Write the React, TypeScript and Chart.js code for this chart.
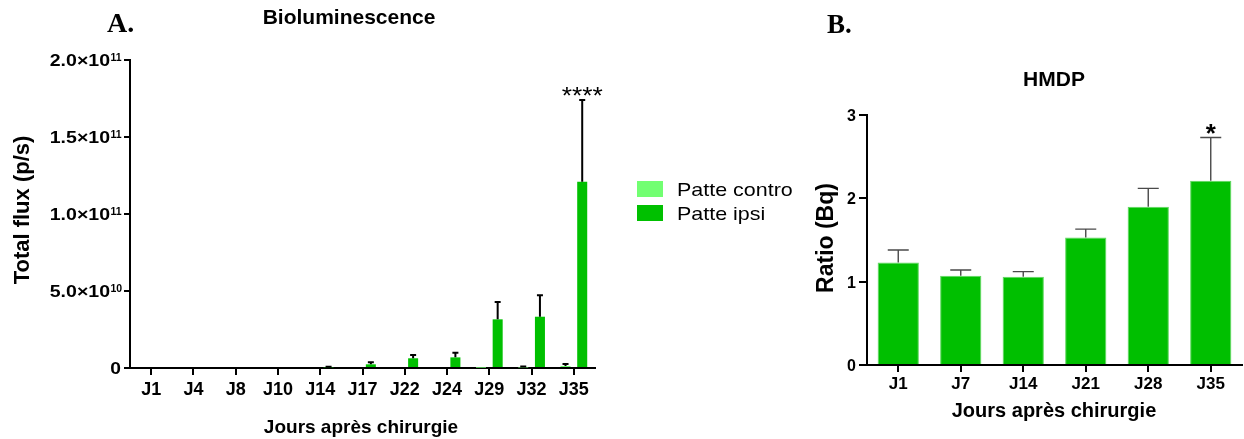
import React, { useEffect, useRef } from 'react';
import { Chart, registerables } from 'chart.js';

Chart.register(...registerables);

// ---------- Data ----------
const bioCategories = ['J1', 'J4', 'J8', 'J10', 'J14', 'J17', 'J22', 'J24', 'J29', 'J32', 'J35'];
const bioControMean = [0, 0, 0, 0, 0, 0, 0, 0, 2e8, 3e8, 1.3e9];
const bioControSem = [0, 0, 0, 0, 0, 0, 0, 0, 0, 6e8, 1.3e9];
const bioIpsiMean = [0, 0, 0, 0, 4e8, 2.4e9, 6.3e9, 6.9e9, 3.16e10, 3.33e10, 1.21e11];
const bioIpsiSem = [0, 0, 0, 0, 4e8, 1.3e9, 2.1e9, 3.0e9, 1.13e10, 1.39e10, 5.3e10];
const bioIpsiSignif = ['', '', '', '', '', '', '', '', '', '', '****'];
const bioYTicks = [0, 5e10, 1e11, 1.5e11, 2e11];

const hmdpCategories = ['J1', 'J7', 'J14', 'J21', 'J28', 'J35'];
const hmdpMean = [1.23, 1.07, 1.06, 1.53, 1.9, 2.21];
const hmdpSem = [0.15, 0.07, 0.06, 0.1, 0.22, 0.52];
const hmdpSignif = ['', '', '', '', '', '*'];
const hmdpYTicks = [0, 1, 2, 3];

// ---------- Styles ----------
const SANS = "'Liberation Sans', Arial, sans-serif";
const SERIF = "'Liberation Serif', 'Times New Roman', serif";
const CONTRO = '#72ff72';
const IPSI = '#00c000';

function drawText(
  ctx: CanvasRenderingContext2D,
  s: string,
  x: number,
  y: number,
  font: string,
  align: 'left' | 'center' | 'right' = 'center',
  sx = 1,
  rotate = false,
  color = '#000'
) {
  ctx.save();
  ctx.font = font;
  ctx.fillStyle = color;
  ctx.textBaseline = 'alphabetic';
  ctx.textAlign = 'left';
  const w = ctx.measureText(s).width * sx;
  const off = align === 'center' ? -w / 2 : align === 'right' ? -w : 0;
  ctx.translate(x, y);
  if (rotate) ctx.rotate(-Math.PI / 2);
  ctx.translate(off, 0);
  ctx.scale(sx, 1);
  ctx.fillText(s, 0, 0);
  ctx.restore();
}

function drawErrorBars(chart: any, color: string, lw: number, capW: number) {
  const ctx = chart.ctx as CanvasRenderingContext2D;
  const yScale = chart.scales.y;
  chart.data.datasets.forEach((ds: any, di: number) => {
    const meta = chart.getDatasetMeta(di);
    meta.data.forEach((bar: any, i: number) => {
      const e = ds.errors[i];
      if (!e) return;
      const m = ds.data[i];
      const yTop = yScale.getPixelForValue(m + e);
      ctx.save();
      ctx.strokeStyle = color;
      ctx.lineWidth = lw;
      ctx.beginPath();
      ctx.moveTo(bar.x, bar.y);
      ctx.lineTo(bar.x, yTop);
      ctx.moveTo(bar.x - capW / 2, yTop);
      ctx.lineTo(bar.x + capW / 2, yTop);
      ctx.stroke();
      ctx.restore();
    });
  });
}

function axisCommon(tickLength: number) {
  return {
    grid: {
      display: true,
      drawOnChartArea: false,
      drawTicks: true,
      offset: false,
      tickLength,
      tickWidth: 2,
      tickColor: '#000',
      lineWidth: 2,
      color: '#000',
    },
    border: { display: true, color: '#000', width: 2 },
  };
}

function BioChart() {
  const ref = useRef<HTMLCanvasElement>(null);
  useEffect(() => {
    const decor = {
      id: 'bioDecor',
      afterDatasetsDraw(chart: any) {
        drawErrorBars(chart, '#000', 2, 6);
        const ctx = chart.ctx;
        const yScale = chart.scales.y;
        const meta = chart.getDatasetMeta(1);
        bioIpsiSignif.forEach((s, i) => {
          if (!s) return;
          const bar: any = meta.data[i];
          const yTop = yScale.getPixelForValue(bioIpsiMean[i] + bioIpsiSem[i]);
          drawText(ctx, s, bar.x, yTop + 4, `24px ${SANS}`, 'center', 1.1);
        });
      },
      afterDraw(chart: any) {
        const ctx = chart.ctx as CanvasRenderingContext2D;
        const xs = chart.scales.x;
        const ys = chart.scales.y;
        // panel letter + title
        drawText(ctx, 'A.', 107, 32, `bold 28px ${SERIF}`, 'left');
        drawText(ctx, 'Bioluminescence', 349, 24, `bold 21px ${SANS}`, 'center');
        // y title
        drawText(ctx, 'Total flux (p/s)', 29, 210, `bold 22px ${SANS}`, 'center', 1, true);
        // y tick labels
        bioYTicks.forEach((v) => {
          const y = ys.getPixelForValue(v);
          if (v === 0) {
            drawText(ctx, '0', 121, y + 6, `bold 16px ${SANS}`, 'right', 1.2);
            return;
          }
          const e = Math.floor(Math.log10(v) + 1e-9);
          const m = (v / Math.pow(10, e)).toFixed(1);
          drawText(ctx, `${m}×10`, 110, y + 6, `bold 16px ${SANS}`, 'right', 1.22);
          drawText(ctx, String(e), 110.5, y + 1, `bold 10px ${SANS}`, 'left', 1.05);
        });
        // x tick labels
        bioCategories.forEach((c, i) => {
          drawText(ctx, c, xs.getPixelForTick(i), 395, `bold 18px ${SANS}`, 'center');
        });
        // x title
        drawText(ctx, 'Jours après chirurgie', 361, 433, `bold 19px ${SANS}`, 'center');
        // legend
        chart.data.datasets.forEach((ds: any, i: number) => {
          const top = 181 + i * 24;
          ctx.fillStyle = ds.backgroundColor;
          ctx.fillRect(637, top, 26, 16);
          drawText(ctx, ds.label, 677, top + 15, `19px ${SANS}`, 'left', 1.13);
        });
      },
    };
    const chart = new Chart(ref.current as HTMLCanvasElement, {
      type: 'bar',
      data: {
        labels: bioCategories,
        datasets: [
          {
            label: 'Patte contro',
            data: bioControMean,
            backgroundColor: CONTRO,
            categoryPercentage: 0.79,
            barPercentage: 0.6,
            errors: bioControSem,
          } as any,
          {
            label: 'Patte ipsi',
            data: bioIpsiMean,
            backgroundColor: IPSI,
            categoryPercentage: 0.79,
            barPercentage: 0.6,
            errors: bioIpsiSem,
          } as any,
        ],
      },
      options: {
        responsive: false,
        animation: false,
        layout: { padding: { left: 0, right: 800 - 595, top: 60, bottom: 0 } },
        plugins: { legend: { display: false }, tooltip: { enabled: false }, title: { display: false } },
        scales: {
          x: {
            type: 'category',
            offset: true,
            ticks: { display: false },
            ...axisCommon(7),
            afterFit: (s: any) => {
              s.height = 439 - 368;
            },
          } as any,
          y: {
            min: 0,
            max: 2e11,
            ticks: { display: false, stepSize: 5e10 },
            ...axisCommon(6),
            afterFit: (s: any) => {
              s.width = 130;
            },
          } as any,
        },
      },
      plugins: [decor],
    });
    return () => chart.destroy();
  }, []);
  return (
    <canvas ref={ref} width={800} height={439} style={{ position: 'absolute', left: 0, top: 0, width: 800, height: 439 }} />
  );
}

function HmdpChart() {
  const ref = useRef<HTMLCanvasElement>(null);
  useEffect(() => {
    const OX = 800;
    const decor = {
      id: 'hmdpDecor',
      afterDatasetsDraw(chart: any) {
        drawErrorBars(chart, '#4a4a4a', 1.4, 21);
        const ctx = chart.ctx;
        const yScale = chart.scales.y;
        const meta = chart.getDatasetMeta(0);
        hmdpSignif.forEach((s, i) => {
          if (!s) return;
          const bar: any = meta.data[i];
          const yTop = yScale.getPixelForValue(hmdpMean[i] + hmdpSem[i]);
          drawText(ctx, s, bar.x, yTop + 4, `bold 26px ${SANS}`, 'center');
        });
      },
      afterDraw(chart: any) {
        const ctx = chart.ctx as CanvasRenderingContext2D;
        const xs = chart.scales.x;
        const ys = chart.scales.y;
        drawText(ctx, 'B.', 827 - OX, 33, `bold 27px ${SERIF}`, 'left');
        drawText(ctx, 'HMDP', 1054 - OX, 86, `bold 21px ${SANS}`, 'center');
        drawText(ctx, 'Ratio (Bq)', 833 - OX, 238, `bold 23px ${SANS}`, 'center', 1, true);
        hmdpYTicks.forEach((v) => {
          const y = ys.getPixelForValue(v);
          drawText(ctx, String(v), 856 - OX, y + 6, `bold 16px ${SANS}`, 'right');
        });
        hmdpCategories.forEach((c, i) => {
          drawText(ctx, c, xs.getPixelForTick(i), 389, `bold 17px ${SANS}`, 'center');
        });
        drawText(ctx, 'Jours après chirurgie', 1054 - OX, 417, `bold 20px ${SANS}`, 'center');
      },
    };
    const chart = new Chart(ref.current as HTMLCanvasElement, {
      type: 'bar',
      data: {
        labels: hmdpCategories,
        datasets: [
          {
            label: 'HMDP',
            data: hmdpMean,
            backgroundColor: '#00bf00',
            borderColor: '#5fd75f',
            borderWidth: 1,
            categoryPercentage: 0.8,
            barPercentage: 0.825,
            errors: hmdpSem,
          } as any,
        ],
      },
      options: {
        responsive: false,
        animation: false,
        layout: { padding: { left: 0, right: 444 - 442, top: 115, bottom: 0 } },
        plugins: { legend: { display: false }, tooltip: { enabled: false }, title: { display: false } },
        scales: {
          x: {
            type: 'category',
            offset: true,
            ticks: { display: false },
            ...axisCommon(7),
            afterFit: (s: any) => {
              s.height = 439 - 365;
            },
          } as any,
          y: {
            min: 0,
            max: 3,
            ticks: { display: false, stepSize: 1 },
            ...axisCommon(8),
            afterFit: (s: any) => {
              s.width = 867 - OX;
            },
          } as any,
        },
      },
      plugins: [decor],
    });
    return () => chart.destroy();
  }, []);
  return (
    <canvas ref={ref} width={444} height={439} style={{ position: 'absolute', left: 800, top: 0, width: 444, height: 439 }} />
  );
}

export default function App() {
  return (
    <div style={{ position: 'absolute', left: 0, top: 0, width: 1244, height: 439, background: '#fff', overflow: 'hidden' }}>
      <BioChart />
      <HmdpChart />
    </div>
  );
}
